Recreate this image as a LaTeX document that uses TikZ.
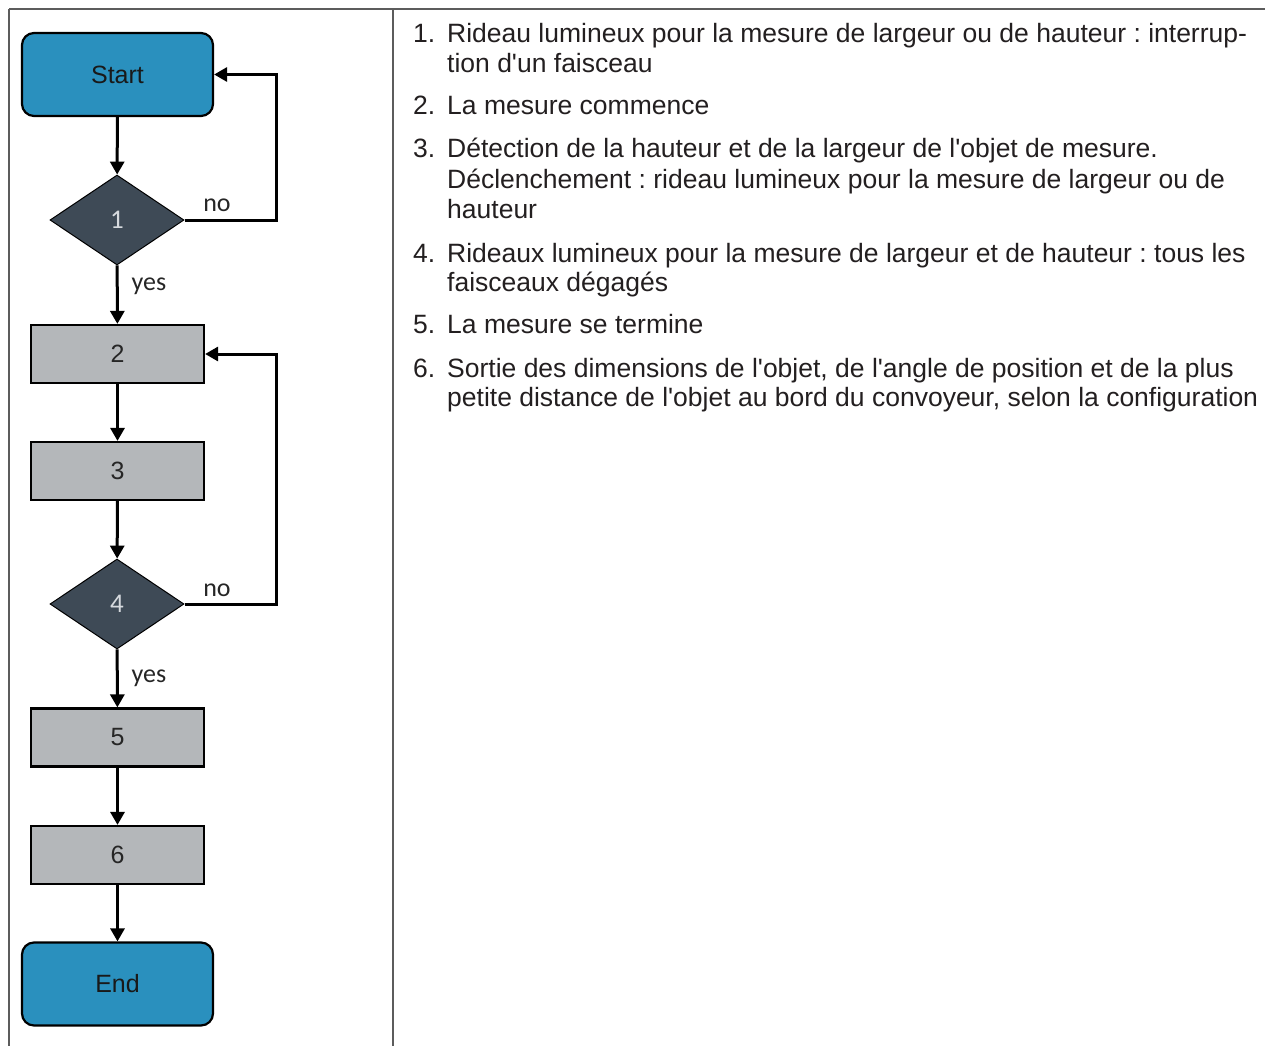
\documentclass[tikz,border=0pt]{standalone}
\usepackage{fontspec}
\usetikzlibrary{shapes.geometric,arrows.meta}
\newfontfamily\arialf{Liberation Sans}
\newfontfamily\calf{Carlito}
\frenchspacing
\definecolor{termblue}{HTML}{2A90BE}
\definecolor{boxgray}{HTML}{B4B7BA}
\definecolor{diadark}{HTML}{3E4A56}
\definecolor{dialbl}{HTML}{D6DADE}
\definecolor{framegray}{HTML}{5C5C5C}
\definecolor{txtcol}{HTML}{231F20}
\tikzset{
  term/.style={draw=black, line width=2.2pt, fill=termblue, rounded corners=12pt,
    minimum width=191pt, minimum height=83pt, inner sep=0pt,
    font=\arialf\fontsize{25}{28}\selectfont, text=black!90},
  procbox/.style={draw=black, line width=2.2pt, fill=boxgray,
    minimum width=173pt, minimum height=58pt, inner sep=0pt,
    font=\arialf\fontsize{25}{28}\selectfont, text=black!85},
  decide/.style={diamond, draw=black, line width=1pt, fill=diadark, aspect=1.49,
    minimum width=134pt, minimum height=90pt, inner sep=0pt,
    font=\calf\fontsize{27}{30}\selectfont, text=dialbl},
  arr/.style={line width=3pt, -{Triangle[length=13pt,width=14pt]}},
  lbl/.style={font=\calf\fontsize{26}{30}\selectfont, text=black!85, inner sep=0pt},
  framel/.style={draw=framegray, line width=1.6pt},
  itemnum/.style={anchor=base west, inner sep=0pt, text=txtcol, font=\arialf\fontsize{26.5}{30}\selectfont},
  itemtxt/.style={anchor=base west, inner sep=0pt, text=txtcol, font=\arialf\fontsize{26.5}{30}\selectfont},
}
\begin{document}
\begin{tikzpicture}[x=1pt,y=-1pt]
\useasboundingbox[fill=white] (0,0) rectangle (1265,1046);
% table frame
\draw[framel] (9,9) -- (1265,9);
\draw[framel] (9,9) -- (9,1046);
\draw[framel] (393,9) -- (393,1046);

% flowchart
\node[term] (start) at (117.5,74.5) {Start};
\node[decide] (d1) at (117,220) {1};
\node[procbox] (p2) at (117.5,354) {2};
\node[procbox] (p3) at (117.5,471) {3};
\node[decide] (d4) at (117,604) {4};
\node[procbox] (p5) at (117.5,737.5) {5};
\node[procbox] (p6) at (117.5,855) {6};
\node[term] (end) at (117.5,984) {End};

\draw[arr] (start) -- (d1);
\draw[arr] (d1) -- (p2);
\draw[arr] (p2) -- (p3);
\draw[arr] (p3) -- (d4);
\draw[arr] (d4) -- (p5);
\draw[arr] (p5) -- (p6);
\draw[arr] (p6) -- (end);
\draw[arr] (d1.east) -- ++(92,0) |- (start.east);
\draw[arr] (d4.east) -- ++(92,0) |- (p2.east);

\node[lbl] (no1) at (217,205) {no};
\node[lbl] (yes1) at (149,286) {yes};
\node[lbl] (no4) at (217,590) {no};
\node[lbl] (yes4) at (149,678) {yes};

% item list
\node[itemnum] (n1) at (413,43) {1.};
\node[itemtxt] (t1a) at (447,43) {Rideau lumineux pour la mesure de largeur ou de hauteur : interrup-};
\node[itemtxt] (t1b) at (447,73) {tion d'un faisceau};
\node[itemnum] (n2) at (413,114) {2.};
\node[itemtxt] (t2a) at (447,114) {La mesure commence};
\node[itemnum] (n3) at (413,157) {3.};
\node[itemtxt] (t3a) at (447,157) {Détection de la hauteur et de la largeur de l'objet de mesure.};
\node[itemtxt] (t3b) at (447,188) {Déclenchement : rideau lumineux pour la mesure de largeur ou de};
\node[itemtxt] (t3c) at (447,218) {hauteur};
\node[itemnum] (n4) at (413,262) {4.};
\node[itemtxt] (t4a) at (447,262) {Rideaux lumineux pour la mesure de largeur et de hauteur : tous les};
\node[itemtxt] (t4b) at (447,291) {faisceaux dégagés};
\node[itemnum] (n5) at (413,333) {5.};
\node[itemtxt] (t5a) at (447,333) {La mesure se termine};
\node[itemnum] (n6) at (413,377) {6.};
\node[itemtxt] (t6a) at (447,377) {Sortie des dimensions de l'objet, de l'angle de position et de la plus};
\node[itemtxt] (t6b) at (447,406) {petite distance de l'objet au bord du convoyeur, selon la configuration};
\end{tikzpicture}
\end{document}
